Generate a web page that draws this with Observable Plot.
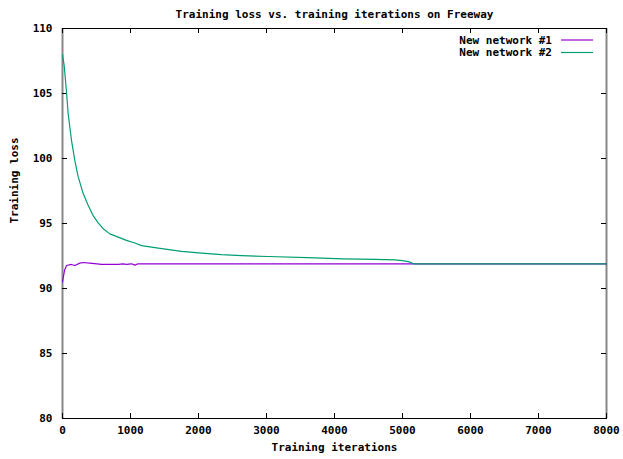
<!DOCTYPE html>
<html>
<head>
<meta charset="utf-8">
<script src="https://cdn.jsdelivr.net/npm/d3@7"></script>
<script src="https://cdn.jsdelivr.net/npm/@observablehq/plot@0.6"></script>
<style>
  html, body { margin: 0; padding: 0; background: #fff; }
  #chart svg { display: block; }
</style>
</head>
<body>
<div id="chart"></div>
<script>
const title = "Training loss vs. training iterations on Freeway";
const xLabel = "Training iterations";
const yLabel = "Training loss";
const seriesNames = ["New network #1", "New network #2"];
const seriesColors = ["#9400d3", "#009e73"];

const xTicks = [0, 1000, 2000, 3000, 4000, 5000, 6000, 7000, 8000];
const yTicks = [80, 85, 90, 95, 100, 105, 110];

// New network #1
const net1Iter = [0, 30, 60, 130, 180, 255, 300, 400, 575, 820, 890, 940, 1015, 1065, 1110, 1160, 2000, 4000, 6000, 8000];
const net1Loss = [90.5, 91.4, 91.77, 91.85, 91.77, 91.95, 92.0, 91.95, 91.85, 91.85, 91.9, 91.85, 91.9, 91.8, 91.9, 91.9, 91.9, 91.9, 91.9, 91.9];

// New network #2
const net2Iter = [0, 25, 59, 84, 132, 181, 230, 304, 377, 451, 525, 598, 696, 819, 941, 1064, 1162, 1407, 1750, 2044, 2338, 2632, 3025, 3600, 4128, 4600, 4887, 5000, 5100, 5160, 6000, 7000, 8000];
const net2Loss = [108.0, 107.15, 105.1, 103.4, 101.4, 99.85, 98.6, 97.3, 96.4, 95.6, 95.05, 94.6, 94.2, 93.95, 93.7, 93.5, 93.3, 93.1, 92.85, 92.72, 92.6, 92.53, 92.46, 92.38, 92.28, 92.24, 92.2, 92.15, 92.05, 91.9, 91.9, 91.9, 91.9];

const data = [
  ...net1Iter.map((x, i) => ({series: seriesNames[0], x, y: net1Loss[i]})),
  ...net2Iter.map((x, i) => ({series: seriesNames[1], x, y: net2Loss[i]}))
];

const W = 623, H = 459;
const mL = 62, mR = 17, mT = 28, mB = 41;
const fw = W - mL - mR, fh = H - mT - mB;
const tick = 5;
const font = "'DejaVu Sans Mono', monospace";
const fs = "11px";

const chart = Plot.plot({
  width: W,
  height: H,
  marginLeft: mL,
  marginRight: mR,
  marginTop: mT,
  marginBottom: mB,
  style: {fontFamily: font, fontSize: fs, fontWeight: "bold", background: "#fff", color: "#000"},
  x: {domain: [0, 8000]},
  y: {domain: [80, 110]},
  color: {domain: seriesNames, range: seriesColors},
  marks: [
    Plot.frame({stroke: "black"}),
    Plot.ruleX([0, 8000], {stroke: "#888", strokeWidth: 2}),
    // inward ticks
    Plot.ruleY(yTicks, {y: d => d, insetRight: fw - tick, stroke: "black"}),
    Plot.ruleY(yTicks, {y: d => d, insetLeft: fw - tick, stroke: "black"}),
    Plot.ruleX(xTicks, {x: d => d, insetTop: fh - tick, stroke: "black"}),
    Plot.ruleX(xTicks, {x: d => d, insetBottom: fh - tick, stroke: "black"}),
    Plot.axisY({ticks: yTicks, tickSize: 0, tickPadding: 10, tickFormat: d => String(d), label: null}),
    Plot.axisX({ticks: xTicks, tickSize: 0, tickPadding: 8, tickFormat: d => String(d), label: null}),
    Plot.line(data, {x: "x", y: "y", z: "series", stroke: "series", strokeWidth: 1.2}),
    Plot.text([title], {text: d => d, frameAnchor: "top", dy: -18}),
    Plot.text([xLabel], {text: d => d, frameAnchor: "bottom", dy: 32}),
    Plot.text([yLabel], {text: d => d, frameAnchor: "left", dx: -48, rotate: -90})
  ]
});

// legend (inside top-right)
const svg = d3.select(chart);
const lg = svg.append("g").attr("font-family", font).attr("font-size", fs).attr("font-weight", "bold");
seriesNames.forEach((name, i) => {
  const y = 40 + i * 12.5;
  lg.append("text").attr("x", 552).attr("y", y).attr("dy", "0.35em").attr("text-anchor", "end").text(name);
  lg.append("line").attr("x1", 561).attr("x2", 593).attr("y1", y).attr("y2", y)
    .attr("stroke", seriesColors[i]).attr("stroke-width", 1.2);
});

document.getElementById("chart").appendChild(chart);
</script>
</body>
</html>
